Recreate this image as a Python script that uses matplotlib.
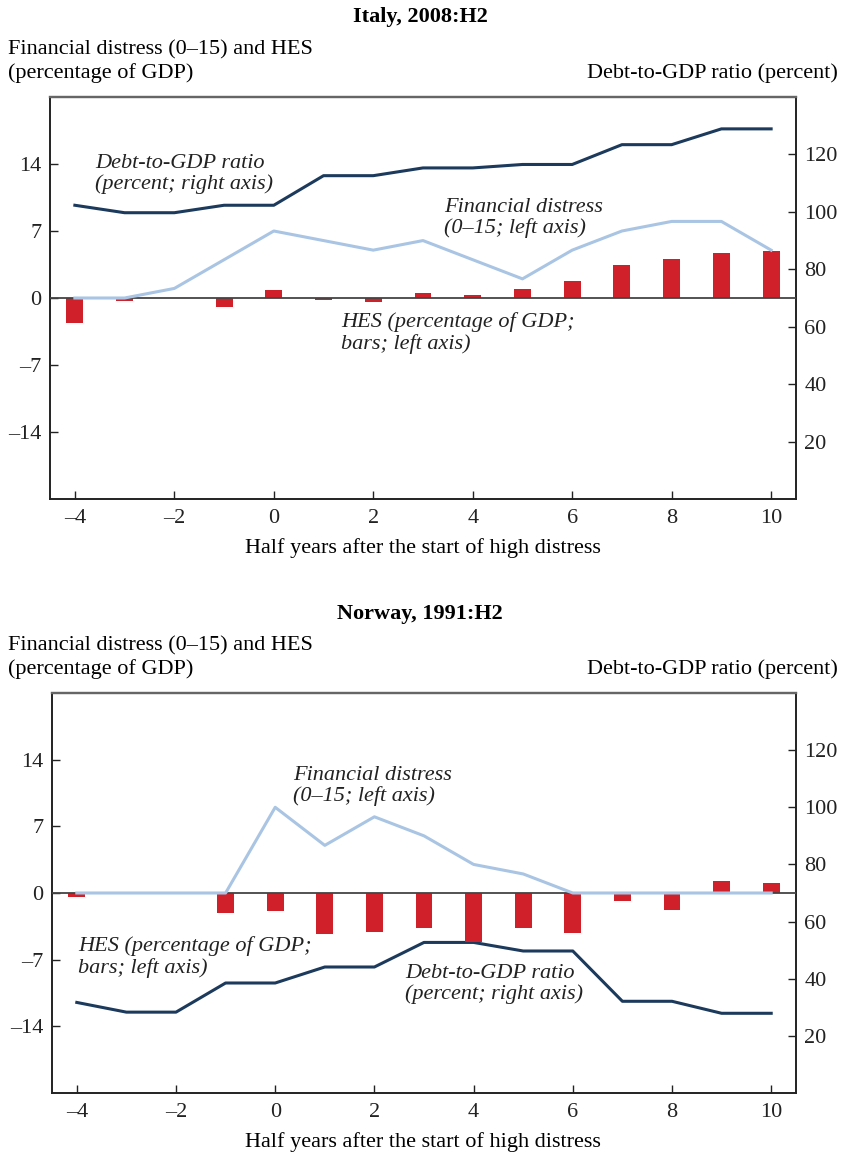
import matplotlib
matplotlib.use("Agg")
import matplotlib.pyplot as plt
import numpy as np

# ---------------- data ----------------
half_years = [-4, -3, -2, -1, 0, 1, 2, 3, 4, 5, 6, 7, 8, 9, 10]

italy_hes = [-2.6, -0.35, 0.0, -0.95, 0.8, -0.25, -0.42, 0.52, 0.31, 0.94, 1.75, 3.45, 4.05, 4.65, 4.9]
italy_distress = [0, 0, 1, 4, 7, 6, 5, 6, 4, 2, 5, 7, 8, 8, 5]
italy_debt = [102.3, 99.7, 99.7, 102.3, 102.3, 112.6, 112.6, 115.3, 115.3, 116.5, 116.5, 123.4, 123.4, 128.9, 128.9]

norway_hes = [-0.42, 0.14, 0.0, -2.1, -1.9, -4.3, -4.1, -3.67, -5.14, -3.67, -4.2, -0.84, -1.78, 1.22, 1.0]
norway_distress = [0, 0, 0, 0, 9, 5, 8, 6, 3, 2, 0, 0, 0, 0, 0]
norway_debt = [31.7, 28.3, 28.3, 38.5, 38.5, 44.1, 44.1, 52.7, 52.7, 49.7, 49.7, 32.1, 32.1, 27.9, 27.9]

x_ticks = [-4, -2, 0, 2, 4, 6, 8, 10]
left_ticks = [-14, -7, 0, 7, 14]
right_ticks = [20, 40, 60, 80, 100, 120]

panels = [
    {"title": "Italy, 2008:H2", "hes": italy_hes, "distress": italy_distress, "debt": italy_debt},
    {"title": "Norway, 1991:H2", "hes": norway_hes, "distress": norway_distress, "debt": norway_debt},
]

# ---------------- style ----------------
FONT = ["Liberation Serif", "DejaVu Serif"]
plt.rcParams["font.family"] = FONT
FS = 16

RED = "#d0202a"
NAVY = "#1c3a5c"
LIGHT = "#a9c5e3"

W, H = 841, 1152
fig = plt.figure(figsize=(W / 100, H / 100), dpi=100)


def fx(x):
    return x / W


def fy(y):
    return 1 - y / H


def dash(v):
    s = f"{v:g}"
    return s.replace("-", "\u2013")


# axes pixel boxes (left, top, right, bottom)
boxes = [(50, 97, 796, 499), (52, 693, 796, 1093)]
title_y = [17, 614]
sub1_y = [50, 646]
sub2_y = [73, 669]
xlabel_y = [548, 1142]

annotations = [
    [
        ("Debt-to-GDP ratio\n(percent; right axis)", 95, 174),
        ("Financial distress\n(0\u201315; left axis)", 444, 218),
        ("HES (percentage of GDP;\nbars; left axis)", 341, 333),
    ],
    [
        ("Financial distress\n(0\u201315; left axis)", 293, 786),
        ("HES (percentage of GDP;\nbars; left axis)", 78, 957),
        ("Debt-to-GDP ratio\n(percent; right axis)", 405, 984),
    ],
]

for i, p in enumerate(panels):
    l, t, r, b = boxes[i]
    ax = fig.add_axes([fx(l), fy(b), fx(r - l), (b - t) / H])
    ax2 = ax.twinx()
    ax.set_zorder(ax2.get_zorder() + 1)
    ax.patch.set_visible(False)

    ax.bar(half_years, p["hes"], width=0.34, color=RED, zorder=2)
    ax.axhline(0, color="#444444", lw=1.3, zorder=3)
    ax.plot(half_years, p["distress"], color=LIGHT, lw=2.2, zorder=4)
    ax2.plot(half_years, p["debt"], color=NAVY, lw=2.2)

    ax.set_xlim(-4.5, 10.5)
    ax.set_ylim(-21, 21)
    ax2.set_ylim(0, 140)

    ax.set_xticks(x_ticks)
    ax.set_xticklabels([dash(v) for v in x_ticks], fontsize=FS)
    ax.set_yticks(left_ticks)
    ax.set_yticklabels([dash(v) for v in left_ticks], fontsize=FS)
    ax2.set_yticks(right_ticks)
    ax2.set_yticklabels([dash(v) for v in right_ticks], fontsize=FS)

    ax.tick_params(axis="x", direction="in", length=6, width=1, pad=7, colors="#222222")
    ax.tick_params(axis="y", direction="in", length=6, width=1, pad=6, colors="#222222")
    ax2.tick_params(axis="y", direction="in", length=6, width=1, pad=6, colors="#222222")
    for a in (ax, ax2):
        for s in ("left", "bottom", "right"):
            a.spines[s].set_color("#222222")
            a.spines[s].set_linewidth(1.2)
        a.spines["top"].set_color("#666666")
        a.spines["top"].set_linewidth(1.6)

    fig.text(fx(420), fy(title_y[i]), p["title"], ha="center", va="center",
             fontsize=FS, fontweight="bold")
    fig.text(fx(8), fy(sub1_y[i]), "Financial distress (0\u201315) and HES",
             ha="left", va="center", fontsize=FS)
    fig.text(fx(8), fy(sub2_y[i]), "(percentage of GDP)", ha="left", va="center", fontsize=FS)
    fig.text(fx(838), fy(sub2_y[i]), "Debt-to-GDP ratio (percent)", ha="right",
             va="center", fontsize=FS)
    fig.text(fx(423), fy(xlabel_y[i]), "Half years after the start of high distress",
             ha="center", va="center", fontsize=FS)

    for txt, x, y in annotations[i]:
        fig.text(fx(x), fy(y), txt, ha="left", va="center", fontsize=FS,
                 style="italic", linespacing=1.1, color="#222222")

fig.savefig("out.png", dpi=100)
